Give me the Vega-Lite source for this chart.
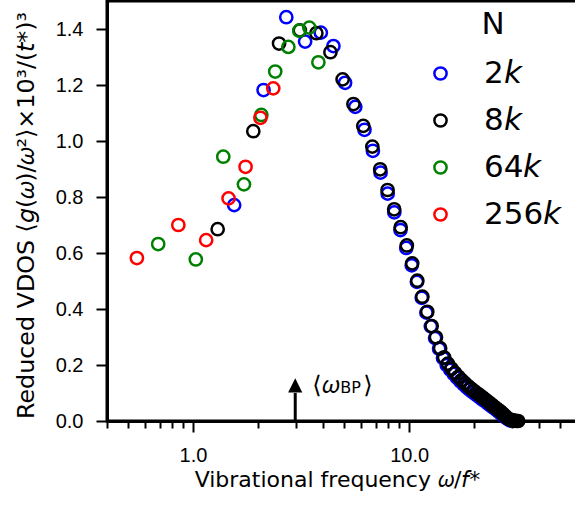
{
  "$schema": "https://vega.github.io/schema/vega-lite/v6.json",
  "autosize": {"type": "none"},
  "width": 472,
  "height": 420,
  "padding": {"left": 107, "top": 1, "right": 0, "bottom": 92},
  "background": "white",
  "config": {
    "view": {"stroke": "black", "strokeWidth": 3},
    "axis": {"grid": false, "domainColor": "black", "tickColor": "black", "labelColor": "black", "titleColor": "black"}
  },
  "resolve": {"axis": {"x": "independent", "y": "independent"}},
  "datasets": {
    "vdos": [
      {"w": 1.55, "g": 0.771, "N": "2k"}, {"w": 2.12, "g": 1.182, "N": "2k"}, {"w": 2.70, "g": 1.442, "N": "2k"},
      {"w": 3.30, "g": 1.355, "N": "2k"}, {"w": 3.90, "g": 1.387, "N": "2k"}, {"w": 4.46, "g": 1.339, "N": "2k"},
      {"w": 5.05, "g": 1.208, "N": "2k"}, {"w": 5.63, "g": 1.122, "N": "2k"}, {"w": 6.21, "g": 1.040, "N": "2k"},
      {"w": 6.79, "g": 0.965, "N": "2k"}, {"w": 7.37, "g": 0.887, "N": "2k"}, {"w": 7.95, "g": 0.812, "N": "2k"},
      {"w": 8.53, "g": 0.745, "N": "2k"}, {"w": 9.11, "g": 0.682, "N": "2k"}, {"w": 9.69, "g": 0.618, "N": "2k"},
      {"w": 10.27, "g": 0.556, "N": "2k"}, {"w": 10.85, "g": 0.497, "N": "2k"}, {"w": 11.43, "g": 0.440, "N": "2k"},
      {"w": 12.01, "g": 0.387, "N": "2k"}, {"w": 12.59, "g": 0.338, "N": "2k"}, {"w": 13.17, "g": 0.296, "N": "2k"},
      {"w": 13.75, "g": 0.258, "N": "2k"}, {"w": 14.33, "g": 0.225, "N": "2k"}, {"w": 14.91, "g": 0.200, "N": "2k"},
      {"w": 15.49, "g": 0.183, "N": "2k"}, {"w": 16.07, "g": 0.168, "N": "2k"}, {"w": 16.65, "g": 0.154, "N": "2k"},
      {"w": 17.23, "g": 0.142, "N": "2k"}, {"w": 17.81, "g": 0.131, "N": "2k"}, {"w": 18.39, "g": 0.121, "N": "2k"},
      {"w": 18.97, "g": 0.112, "N": "2k"}, {"w": 19.55, "g": 0.104, "N": "2k"}, {"w": 20.13, "g": 0.097, "N": "2k"},
      {"w": 20.71, "g": 0.090, "N": "2k"}, {"w": 21.29, "g": 0.083, "N": "2k"}, {"w": 21.87, "g": 0.076, "N": "2k"},
      {"w": 22.45, "g": 0.070, "N": "2k"}, {"w": 23.03, "g": 0.063, "N": "2k"}, {"w": 23.61, "g": 0.057, "N": "2k"},
      {"w": 24.19, "g": 0.051, "N": "2k"}, {"w": 24.77, "g": 0.045, "N": "2k"}, {"w": 25.35, "g": 0.039, "N": "2k"},
      {"w": 25.93, "g": 0.033, "N": "2k"}, {"w": 26.51, "g": 0.027, "N": "2k"}, {"w": 27.09, "g": 0.021, "N": "2k"},
      {"w": 27.67, "g": 0.015, "N": "2k"}, {"w": 28.25, "g": 0.010, "N": "2k"}, {"w": 28.83, "g": 0.005, "N": "2k"},
      {"w": 29.41, "g": 0.002, "N": "2k"},
      {"w": 1.30, "g": 0.685, "N": "8k"}, {"w": 1.90, "g": 1.035, "N": "8k"}, {"w": 2.50, "g": 1.348, "N": "8k"},
      {"w": 3.12, "g": 1.395, "N": "8k"}, {"w": 3.72, "g": 1.385, "N": "8k"}, {"w": 4.32, "g": 1.317, "N": "8k"},
      {"w": 4.92, "g": 1.220, "N": "8k"}, {"w": 5.52, "g": 1.132, "N": "8k"}, {"w": 6.13, "g": 1.054, "N": "8k"},
      {"w": 6.75, "g": 0.980, "N": "8k"}, {"w": 7.34, "g": 0.899, "N": "8k"}, {"w": 7.94, "g": 0.825, "N": "8k"},
      {"w": 8.52, "g": 0.756, "N": "8k"}, {"w": 9.13, "g": 0.692, "N": "8k"}, {"w": 9.75, "g": 0.627, "N": "8k"},
      {"w": 10.32, "g": 0.563, "N": "8k"}, {"w": 10.9, "g": 0.501, "N": "8k"}, {"w": 11.5, "g": 0.444, "N": "8k"},
      {"w": 12.12, "g": 0.390, "N": "8k"}, {"w": 12.7, "g": 0.339, "N": "8k"}, {"w": 13.3, "g": 0.299, "N": "8k"},
      {"w": 13.9, "g": 0.260, "N": "8k"}, {"w": 14.5, "g": 0.227, "N": "8k"}, {"w": 15.1, "g": 0.205, "N": "8k"},
      {"w": 15.7, "g": 0.187, "N": "8k"}, {"w": 16.3, "g": 0.172, "N": "8k"}, {"w": 16.9, "g": 0.158, "N": "8k"},
      {"w": 17.5, "g": 0.146, "N": "8k"}, {"w": 18.1, "g": 0.135, "N": "8k"}, {"w": 18.7, "g": 0.125, "N": "8k"},
      {"w": 19.3, "g": 0.116, "N": "8k"}, {"w": 19.9, "g": 0.108, "N": "8k"}, {"w": 20.5, "g": 0.100, "N": "8k"},
      {"w": 21.1, "g": 0.093, "N": "8k"}, {"w": 21.7, "g": 0.086, "N": "8k"}, {"w": 22.3, "g": 0.079, "N": "8k"},
      {"w": 22.9, "g": 0.072, "N": "8k"}, {"w": 23.5, "g": 0.065, "N": "8k"}, {"w": 24.1, "g": 0.058, "N": "8k"},
      {"w": 24.7, "g": 0.051, "N": "8k"}, {"w": 25.3, "g": 0.045, "N": "8k"}, {"w": 25.9, "g": 0.039, "N": "8k"},
      {"w": 26.5, "g": 0.033, "N": "8k"}, {"w": 27.1, "g": 0.026, "N": "8k"}, {"w": 27.7, "g": 0.019, "N": "8k"},
      {"w": 28.3, "g": 0.012, "N": "8k"}, {"w": 28.9, "g": 0.007, "N": "8k"}, {"w": 29.5, "g": 0.004, "N": "8k"},
      {"w": 30.1, "g": 0.002, "N": "8k"}, {"w": 30.7, "g": 0.001, "N": "8k"}, {"w": 31.3, "g": 0.0, "N": "8k"},
      {"w": 31.9, "g": 0.0, "N": "8k"},
      {"w": 0.69, "g": 0.632, "N": "64k"}, {"w": 1.03, "g": 0.577, "N": "64k"}, {"w": 1.38, "g": 0.944, "N": "64k"},
      {"w": 1.72, "g": 0.845, "N": "64k"}, {"w": 2.07, "g": 1.093, "N": "64k"}, {"w": 2.40, "g": 1.248, "N": "64k"},
      {"w": 2.76, "g": 1.336, "N": "64k"}, {"w": 3.10, "g": 1.394, "N": "64k"}, {"w": 3.45, "g": 1.405, "N": "64k"},
      {"w": 3.80, "g": 1.281, "N": "64k"},
      {"w": 0.55, "g": 0.582, "N": "256k"}, {"w": 0.855, "g": 0.700, "N": "256k"}, {"w": 1.15, "g": 0.646, "N": "256k"},
      {"w": 1.46, "g": 0.795, "N": "256k"}, {"w": 1.75, "g": 0.908, "N": "256k"}, {"w": 2.05, "g": 1.083, "N": "256k"},
      {"w": 2.35, "g": 1.188, "N": "256k"}
    ],
    "arrow": [{"w": 2.97, "base": 0, "top": 0.1, "head": 0.127, "ty": 0.1}]
  },
  "layer": [
    {
      "data": {"name": "vdos"},
      "mark": {"type": "point", "filled": false, "strokeWidth": 2.5, "size": 150, "opacity": 1},
      "encoding": {
        "x": {
          "field": "w", "type": "quantitative",
          "scale": {"type": "log", "domain": [0.4, 61], "nice": false},
          "axis": {
            "orient": "bottom",
            "values": [0.4, 0.5, 0.6, 0.7, 0.8, 0.9, 1, 2, 3, 4, 5, 6, 7, 8, 9, 10, 20, 30, 40, 50],
            "labelExpr": "datum.value == 1 ? '1.0' : (datum.value == 10 ? '10.0' : '')",
            "tickSize": {"condition": {"test": "datum.value == 1 || datum.value == 10", "value": 11}, "value": 7},
            "tickWidth": 2, "domainWidth": 3,
            "labelFont": "Liberation Sans", "labelFontSize": 20, "labelPadding": 13,
            "labelOverlap": false, "labelFlush": false,
            "title": "Vibrational frequency 𝜔/𝘧*",
            "titleFont": "DejaVu Sans", "titleFontSize": 22, "titleFontWeight": "normal",
            "titlePadding": 4, "titleX": 230, "titleLimit": 600
          }
        },
        "y": {
          "field": "g", "type": "quantitative",
          "scale": {"domain": [0, 1.5], "nice": false},
          "axis": {
            "orient": "left",
            "values": [0, 0.2, 0.4, 0.6, 0.8, 1.0, 1.2, 1.4],
            "format": ".1f",
            "tickSize": 11, "tickWidth": 2, "domainWidth": 3,
            "labelFont": "Liberation Sans", "labelFontSize": 20, "labelPadding": 13,
            "title": "Reduced VDOS ⟨𝘨(𝜔)/𝜔²⟩×10³/(𝘵*)³",
            "titleFont": "DejaVu Sans", "titleFontSize": 23.8, "titleFontWeight": "normal",
            "titlePadding": 17, "titleLimit": 600, "titleY": 214
          }
        },
        "color": {
          "field": "N", "type": "nominal",
          "scale": {"domain": ["2k", "8k", "64k", "256k"], "range": ["#0000ff", "#000000", "#008000", "#ff0000"]},
          "legend": {
            "title": "N", "orient": "none", "legendX": 318, "legendY": 9,
            "titleFont": "DejaVu Sans", "titleFontSize": 31, "titleFontWeight": "normal", "titleColor": "black",
            "titleAnchor": "middle", "titlePadding": 17,
            "labelFont": "DejaVu Sans", "labelFontSize": 31, "labelColor": "black", "labelOffset": 28,
            "labelExpr": "replace(datum.label, 'k', '𝘬')",
            "symbolType": "circle", "symbolSize": 150, "symbolStrokeWidth": 2.5, "symbolFillColor": "transparent",
            "rowPadding": 15, "padding": 0
          }
        }
      }
    },
    {
      "data": {"name": "arrow"},
      "mark": {"type": "rule", "strokeWidth": 3, "color": "black"},
      "encoding": {
        "x": {"field": "w", "type": "quantitative", "axis": null},
        "y": {"field": "base", "type": "quantitative", "axis": null},
        "y2": {"field": "top"}
      }
    },
    {
      "data": {"name": "arrow"},
      "mark": {"type": "point", "shape": "M0,-1L1,1L-1,1Z", "filled": true, "color": "black", "size": 200, "opacity": 1},
      "encoding": {
        "x": {"field": "w", "type": "quantitative", "axis": null},
        "y": {"field": "head", "type": "quantitative", "axis": null}
      }
    },
    {
      "data": {"name": "arrow"},
      "mark": {"type": "text", "text": "⟨𝜔", "font": "DejaVu Sans", "fontSize": 24, "align": "left", "baseline": "alphabetic", "dx": 17, "color": "black"},
      "encoding": {
        "x": {"field": "w", "type": "quantitative", "axis": null},
        "y": {"field": "ty", "type": "quantitative", "axis": null}
      }
    },
    {
      "data": {"name": "arrow"},
      "mark": {"type": "text", "text": "BP", "font": "DejaVu Sans", "fontSize": 16, "align": "left", "baseline": "alphabetic", "dx": 45, "dy": 0, "color": "black"},
      "encoding": {
        "x": {"field": "w", "type": "quantitative", "axis": null},
        "y": {"field": "ty", "type": "quantitative", "axis": null}
      }
    },
    {
      "data": {"name": "arrow"},
      "mark": {"type": "text", "text": "⟩", "font": "DejaVu Sans", "fontSize": 24, "align": "left", "baseline": "alphabetic", "dx": 68, "color": "black"},
      "encoding": {
        "x": {"field": "w", "type": "quantitative", "axis": null},
        "y": {"field": "ty", "type": "quantitative", "axis": null}
      }
    }
  ]
}
